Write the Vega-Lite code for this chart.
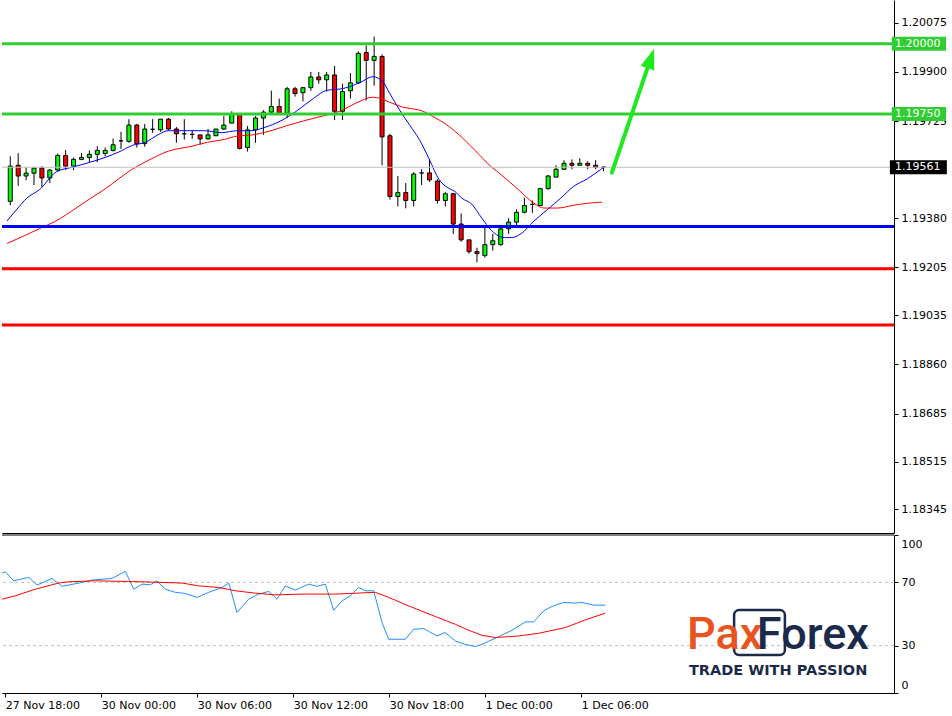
{
  "$schema": "https://vega.github.io/schema/vega-lite/v6.json",
  "padding": 0,
  "autosize": {"type": "pad"},
  "background": "white",
  "spacing": 1,
  "config": {
    "view": {"stroke": null},
    "axis": {"labelFont": "DejaVu Sans", "labelFontSize": 11, "labelColor": "black", "domainColor": "black", "tickColor": "black", "grid": false, "domainWidth": 1, "tickWidth": 1}
  },
  "datasets": {
    "candles": [
      {"i":0,"o":1.19440,"h":1.19600,"l":1.19426,"c":1.19565},
      {"i":1,"o":1.19568,"h":1.19611,"l":1.19495,"c":1.19530},
      {"i":2,"o":1.19530,"h":1.19561,"l":1.19515,"c":1.19540},
      {"i":3,"o":1.19540,"h":1.19561,"l":1.19498,"c":1.19558},
      {"i":4,"o":1.19558,"h":1.19565,"l":1.19490,"c":1.19523},
      {"i":5,"o":1.19523,"h":1.19554,"l":1.19505,"c":1.19551},
      {"i":6,"o":1.19551,"h":1.19610,"l":1.19547,"c":1.19603},
      {"i":7,"o":1.19603,"h":1.19622,"l":1.19551,"c":1.19565},
      {"i":8,"o":1.19565,"h":1.19596,"l":1.19551,"c":1.19589},
      {"i":9,"o":1.19589,"h":1.19611,"l":1.19586,"c":1.19596},
      {"i":10,"o":1.19596,"h":1.19621,"l":1.19579,"c":1.19607},
      {"i":11,"o":1.19607,"h":1.19636,"l":1.19579,"c":1.19621},
      {"i":12,"o":1.19610,"h":1.19631,"l":1.19600,"c":1.19621},
      {"i":13,"o":1.19621,"h":1.19663,"l":1.19617,"c":1.19641},
      {"i":14,"o":1.19655,"h":1.19687,"l":1.19626,"c":1.19655},
      {"i":15,"o":1.19653,"h":1.19732,"l":1.19648,"c":1.19711},
      {"i":16,"o":1.19711,"h":1.19715,"l":1.19631,"c":1.19645},
      {"i":17,"o":1.19645,"h":1.19715,"l":1.19634,"c":1.19697},
      {"i":18,"o":1.19696,"h":1.19732,"l":1.19683,"c":1.19696},
      {"i":19,"o":1.19694,"h":1.19732,"l":1.19687,"c":1.19732},
      {"i":20,"o":1.19732,"h":1.19736,"l":1.19694,"c":1.19697},
      {"i":21,"o":1.19697,"h":1.19704,"l":1.19648,"c":1.19680},
      {"i":22,"o":1.19680,"h":1.19732,"l":1.19659,"c":1.19680},
      {"i":23,"o":1.19678,"h":1.19694,"l":1.19662,"c":1.19678},
      {"i":24,"o":1.19676,"h":1.19676,"l":1.19641,"c":1.19662},
      {"i":25,"o":1.19662,"h":1.19697,"l":1.19659,"c":1.19676},
      {"i":26,"o":1.19673,"h":1.19697,"l":1.19673,"c":1.19697},
      {"i":27,"o":1.19697,"h":1.19743,"l":1.19694,"c":1.19711},
      {"i":28,"o":1.19718,"h":1.19760,"l":1.19718,"c":1.19750},
      {"i":29,"o":1.19750,"h":1.19750,"l":1.19624,"c":1.19628},
      {"i":30,"o":1.19631,"h":1.19708,"l":1.19617,"c":1.19694},
      {"i":31,"o":1.19694,"h":1.19743,"l":1.19648,"c":1.19736},
      {"i":32,"o":1.19736,"h":1.19764,"l":1.19676,"c":1.19757},
      {"i":33,"o":1.19757,"h":1.19833,"l":1.19753,"c":1.19777},
      {"i":34,"o":1.19777,"h":1.19805,"l":1.19750,"c":1.19753},
      {"i":35,"o":1.19753,"h":1.19847,"l":1.19736,"c":1.19840},
      {"i":36,"o":1.19840,"h":1.19847,"l":1.19812,"c":1.19823},
      {"i":37,"o":1.19826,"h":1.19844,"l":1.19795,"c":1.19844},
      {"i":38,"o":1.19844,"h":1.19900,"l":1.19833,"c":1.19882},
      {"i":39,"o":1.19882,"h":1.19900,"l":1.19858,"c":1.19872},
      {"i":40,"o":1.19872,"h":1.19900,"l":1.19830,"c":1.19889},
      {"i":41,"o":1.19889,"h":1.19921,"l":1.19729,"c":1.19760},
      {"i":42,"o":1.19760,"h":1.19858,"l":1.19729,"c":1.19830},
      {"i":43,"o":1.19833,"h":1.19896,"l":1.19805,"c":1.19861},
      {"i":44,"o":1.19861,"h":1.19973,"l":1.19858,"c":1.19966},
      {"i":45,"o":1.19969,"h":1.19994,"l":1.19798,"c":1.19941},
      {"i":46,"o":1.19941,"h":1.20026,"l":1.19851,"c":1.19955},
      {"i":47,"o":1.19955,"h":1.19962,"l":1.19568,"c":1.19669},
      {"i":48,"o":1.19673,"h":1.19680,"l":1.19446,"c":1.19457},
      {"i":49,"o":1.19457,"h":1.19530,"l":1.19422,"c":1.19471},
      {"i":50,"o":1.19471,"h":1.19505,"l":1.19415,"c":1.19443},
      {"i":51,"o":1.19443,"h":1.19544,"l":1.19422,"c":1.19537},
      {"i":52,"o":1.19541,"h":1.19554,"l":1.19498,"c":1.19541},
      {"i":53,"o":1.19541,"h":1.19589,"l":1.19509,"c":1.19516},
      {"i":54,"o":1.19512,"h":1.19519,"l":1.19432,"c":1.19443},
      {"i":55,"o":1.19443,"h":1.19474,"l":1.19422,"c":1.19467},
      {"i":56,"o":1.19467,"h":1.19467,"l":1.19324,"c":1.19359},
      {"i":57,"o":1.19359,"h":1.19397,"l":1.19296,"c":1.19303},
      {"i":58,"o":1.19303,"h":1.19303,"l":1.19254,"c":1.19261},
      {"i":59,"o":1.19261,"h":1.19275,"l":1.19223,"c":1.19254},
      {"i":60,"o":1.19247,"h":1.19350,"l":1.19240,"c":1.19286},
      {"i":61,"o":1.19286,"h":1.19324,"l":1.19265,"c":1.19300},
      {"i":62,"o":1.19286,"h":1.19345,"l":1.19282,"c":1.19342},
      {"i":63,"o":1.19342,"h":1.19380,"l":1.19324,"c":1.19366},
      {"i":64,"o":1.19366,"h":1.19411,"l":1.19345,"c":1.19401},
      {"i":65,"o":1.19401,"h":1.19453,"l":1.19397,"c":1.19425},
      {"i":66,"o":1.19429,"h":1.19443,"l":1.19399,"c":1.19429},
      {"i":67,"o":1.19425,"h":1.19488,"l":1.19425,"c":1.19485},
      {"i":68,"o":1.19485,"h":1.19533,"l":1.19481,"c":1.19530},
      {"i":69,"o":1.19526,"h":1.19568,"l":1.19526,"c":1.19554},
      {"i":70,"o":1.19554,"h":1.19586,"l":1.19551,"c":1.19575},
      {"i":71,"o":1.19575,"h":1.19589,"l":1.19554,"c":1.19568},
      {"i":72,"o":1.19568,"h":1.19593,"l":1.19568,"c":1.19575},
      {"i":73,"o":1.19575,"h":1.19582,"l":1.19554,"c":1.19568},
      {"i":74,"o":1.19568,"h":1.19586,"l":1.19554,"c":1.19561},
      {"i":75,"o":1.19561,"h":1.19565,"l":1.19547,"c":1.19561}
    ],
    "ma_fast": [
      {"i":-0.41,"v":1.19370},{"i":0.84,"v":1.19412},{"i":2.09,"v":1.19451},{"i":3.71,"v":1.19482},
      {"i":5.84,"v":1.19545},{"i":7.96,"v":1.19562},{"i":12.09,"v":1.19597},{"i":13.71,"v":1.19615},
      {"i":15.46,"v":1.19639},{"i":17.09,"v":1.19650},{"i":18.71,"v":1.19677},{"i":19.96,"v":1.19691},
      {"i":22.46,"v":1.19691},{"i":24.59,"v":1.19691},{"i":26.71,"v":1.19684},{"i":28.71,"v":1.19691},
      {"i":30.46,"v":1.19691},{"i":32.09,"v":1.19702},{"i":34.21,"v":1.19726},{"i":36.21,"v":1.19761},
      {"i":38.34,"v":1.19806},{"i":39.96,"v":1.19834},{"i":42.09,"v":1.19841},{"i":44.21,"v":1.19862},
      {"i":45.84,"v":1.19883},{"i":47.09,"v":1.19866},{"i":47.96,"v":1.19824},{"i":49.21,"v":1.19765},
      {"i":50.46,"v":1.19712},{"i":51.71,"v":1.19660},{"i":52.96,"v":1.19590},{"i":54.21,"v":1.19517},
      {"i":55.46,"v":1.19486},{"i":56.21,"v":1.19475},{"i":57.09,"v":1.19451},{"i":58.34,"v":1.19430},
      {"i":59.59,"v":1.19381},{"i":60.84,"v":1.19336},{"i":62.46,"v":1.19311},{"i":63.34,"v":1.19311},
      {"i":64.59,"v":1.19325},{"i":66.21,"v":1.19370},{"i":67.96,"v":1.19412},{"i":69.59,"v":1.19451},
      {"i":71.21,"v":1.19493},{"i":72.96,"v":1.19520},{"i":74.59,"v":1.19552},{"i":74.96,"v":1.19559}
    ],
    "ma_slow": [
      {"i":-0.41,"v":1.19290},{"i":3.71,"v":1.19343},{"i":6.21,"v":1.19377},{"i":7.96,"v":1.19409},
      {"i":9.96,"v":1.19447},{"i":12.09,"v":1.19486},{"i":13.71,"v":1.19520},{"i":15.46,"v":1.19555},
      {"i":17.09,"v":1.19580},{"i":19.96,"v":1.19618},{"i":22.96,"v":1.19636},{"i":24.96,"v":1.19650},
      {"i":27.09,"v":1.19660},{"i":28.34,"v":1.19670},{"i":30.84,"v":1.19677},{"i":32.96,"v":1.19691},
      {"i":34.96,"v":1.19709},{"i":37.09,"v":1.19726},{"i":39.59,"v":1.19744},{"i":41.71,"v":1.19761},
      {"i":43.71,"v":1.19789},{"i":45.84,"v":1.19810},{"i":46.71,"v":1.19806},{"i":47.96,"v":1.19792},
      {"i":49.59,"v":1.19775},{"i":52.09,"v":1.19761},{"i":53.71,"v":1.19737},{"i":54.96,"v":1.19716},
      {"i":56.71,"v":1.19677},{"i":58.71,"v":1.19622},{"i":60.84,"v":1.19562},{"i":62.09,"v":1.19534},
      {"i":64.21,"v":1.19482},{"i":66.21,"v":1.19433},{"i":67.46,"v":1.19416},{"i":69.21,"v":1.19416},
      {"i":71.21,"v":1.19426},{"i":72.96,"v":1.19433},{"i":74.84,"v":1.19437}
    ],
    "levels": [
      {"p":1.20000,"kind":"target"},{"p":1.19750,"kind":"target"},
      {"p":1.19350,"kind":"pivot"},
      {"p":1.19200,"kind":"support"},{"p":1.19000,"kind":"support"}
    ],
    "price_tags": [
      {"p":1.20000,"kind":"target"},{"p":1.19750,"kind":"target"},{"p":1.19561,"kind":"last"}
    ],
    "arrow": [{"i0":76.05,"p0":1.19542,"i1":80.975,"p1":1.19948}],
    "rsi": [
      {"i":-0.41,"v":75.9},{"i":0,"v":76.7},{"i":1.05,"v":71.0},{"i":2.93,"v":73.2},{"i":3.96,"v":68.3},
      {"i":5.84,"v":72.5},{"i":7.09,"v":67.5},{"i":9.59,"v":70.0},{"i":10.84,"v":71.5},{"i":13.34,"v":72.5},
      {"i":15.0,"v":77.0},{"i":16.05,"v":65.7},{"i":17.09,"v":68.9},{"i":18.13,"v":68.5},{"i":18.96,"v":71.0},
      {"i":20.0,"v":65.7},{"i":21.25,"v":63.7},{"i":22.5,"v":63.0},{"i":23.96,"v":60.5},{"i":25.43,"v":63.7},
      {"i":27.09,"v":66.8},{"i":27.93,"v":69.6},{"i":28.96,"v":51.0},{"i":30.43,"v":59.4},{"i":31.68,"v":62.6},
      {"i":32.93,"v":64.3},{"i":33.96,"v":59.4},{"i":35.0,"v":67.8},{"i":36.25,"v":65.1},{"i":37.93,"v":68.9},
      {"i":38.96,"v":67.5},{"i":40.0,"v":68.9},{"i":41.05,"v":52.4},{"i":42.09,"v":58.3},{"i":43.13,"v":61.5},
      {"i":44.18,"v":66.8},{"i":45.0,"v":64.7},{"i":46.05,"v":64.7},{"i":47.09,"v":44.6},{"i":47.93,"v":34.0},
      {"i":50.0,"v":34.0},{"i":51.05,"v":40.3},{"i":52.3,"v":40.8},{"i":53.96,"v":36.1},{"i":55.0,"v":38.3},
      {"i":56.25,"v":32.9},{"i":57.5,"v":30.8},{"i":58.75,"v":29.4},{"i":59.59,"v":30.8},{"i":61.68,"v":35.7},
      {"i":63.34,"v":39.7},{"i":65.0,"v":45.0},{"i":66.05,"v":45.0},{"i":67.3,"v":52.0},{"i":68.34,"v":54.8},
      {"i":69.8,"v":57.3},{"i":71.25,"v":56.9},{"i":72.09,"v":57.3},{"i":73.55,"v":55.6},{"i":75.0,"v":55.6}
    ],
    "rsi_signal": [
      {"i":-0.41,"v":59.4},{"i":1.25,"v":61.5},{"i":3.75,"v":65.7},{"i":6.68,"v":69.6},{"i":7.93,"v":70.4},
      {"i":11.25,"v":71.0},{"i":15.43,"v":70.6},{"i":19.59,"v":70.0},{"i":22.09,"v":69.6},{"i":24.18,"v":67.8},
      {"i":26.68,"v":66.8},{"i":28.75,"v":64.7},{"i":31.25,"v":63.2},{"i":33.75,"v":62.1},{"i":37.09,"v":62.6},
      {"i":41.25,"v":62.6},{"i":46.25,"v":63.7},{"i":47.93,"v":60.5},{"i":50.43,"v":55.1},{"i":53.75,"v":48.4},
      {"i":56.25,"v":43.5},{"i":57.93,"v":39.7},{"i":59.59,"v":36.5},{"i":61.25,"v":35.1},{"i":64.18,"v":36.1},
      {"i":66.68,"v":37.8},{"i":70.0,"v":41.4},{"i":72.5,"v":46.3},{"i":75.0,"v":50.5}
    ],
    "rsi_levels": [{"v":70},{"v":30}]
  },
  "vconcat": [
    {
      "width": 892,
      "height": 533,
      "layer": [
        {
          "data": {"name": "candles"},
          "mark": {"type": "rule", "color": "black", "strokeWidth": 1},
          "encoding": {
            "x": {"field": "i", "type": "quantitative", "scale": {"domain": [-0.4125, 111.0875], "nice": false, "zero": false},
                  "axis": {"orient": "bottom", "labels": false, "ticks": false, "domain": true, "title": null}},
            "y": {"field": "l", "type": "quantitative", "scale": {"domain": [1.182787, 1.201378], "nice": false, "zero": false},
                  "axis": {"orient": "right", "title": null, "values": [1.20075, 1.199, 1.19725, 1.1938, 1.19205, 1.19035, 1.1886, 1.18685, 1.18515, 1.18345], "format": ".5f", "tickSize": 4, "labelPadding": 3}},
            "y2": {"field": "h"}
          }
        },
        {
          "data": {"name": "candles"},
          "mark": {"type": "bar", "size": 4, "stroke": "black", "strokeWidth": 1},
          "encoding": {
            "x": {"field": "i", "type": "quantitative"},
            "y": {"field": "o", "type": "quantitative"},
            "y2": {"field": "c"},
            "fill": {"condition": {"test": "datum.c > datum.o", "value": "#00ff00"}, "value": "#ff0000"}
          }
        },
        {
          "data": {"name": "ma_fast"},
          "mark": {"type": "line", "color": "#0000ff", "strokeWidth": 1, "interpolate": "monotone"},
          "encoding": {"x": {"field": "i", "type": "quantitative"}, "y": {"field": "v", "type": "quantitative"}}
        },
        {
          "data": {"name": "ma_slow"},
          "mark": {"type": "line", "color": "#ff0000", "strokeWidth": 1, "interpolate": "monotone"},
          "encoding": {"x": {"field": "i", "type": "quantitative"}, "y": {"field": "v", "type": "quantitative"}}
        },
        {
          "data": {"values": [{}]},
          "mark": {"type": "rule", "color": "#c0c0c0", "strokeWidth": 1},
          "encoding": {"y": {"datum": 1.19561}}
        },
        {
          "data": {"name": "levels"},
          "transform": [{"filter": "datum.kind == 'target'"}],
          "mark": {"type": "rule", "color": "#32cd32", "strokeWidth": 3},
          "encoding": {"y": {"field": "p", "type": "quantitative"}}
        },
        {
          "data": {"name": "levels"},
          "transform": [{"filter": "datum.kind == 'pivot'"}],
          "mark": {"type": "rule", "color": "#0000ff", "strokeWidth": 3},
          "encoding": {"y": {"field": "p", "type": "quantitative"}}
        },
        {
          "data": {"name": "levels"},
          "transform": [{"filter": "datum.kind == 'support'"}],
          "mark": {"type": "rule", "color": "#ff0000", "strokeWidth": 3},
          "encoding": {"y": {"field": "p", "type": "quantitative"}}
        },
        {
          "data": {"name": "arrow"},
          "mark": {"type": "rule", "color": "#1ee81e", "strokeWidth": 4, "strokeCap": "round"},
          "encoding": {
            "x": {"field": "i0", "type": "quantitative"}, "x2": {"field": "i1"},
            "y": {"field": "p0", "type": "quantitative"}, "y2": {"field": "p1"}
          }
        },
        {
          "data": {"name": "arrow"},
          "mark": {"type": "point", "shape": "M0,-1L0.7,1L-0.7,1Z", "size": 420, "angle": 18.7, "filled": true, "color": "#1ee81e", "opacity": 1},
          "encoding": {"x": {"field": "i1", "type": "quantitative"}, "y": {"field": "p1", "type": "quantitative"}}
        },
        {
          "data": {"name": "price_tags"},
          "transform": [{"filter": "datum.kind == 'target'"}],
          "mark": {"type": "bar", "color": "#32cd32", "size": 14, "orient": "horizontal"},
          "encoding": {"x": {"datum": 111.45}, "x2": {"datum": 118.3}, "y": {"field": "p", "type": "quantitative"}}
        },
        {
          "data": {"name": "price_tags"},
          "transform": [{"filter": "datum.kind == 'last'"}],
          "mark": {"type": "bar", "color": "#000000", "size": 14, "orient": "horizontal"},
          "encoding": {"x": {"datum": 111.2}, "x2": {"datum": 118.4}, "y": {"field": "p", "type": "quantitative"}}
        },
        {
          "data": {"name": "price_tags"},
          "mark": {"type": "text", "color": "white", "font": "DejaVu Sans", "fontSize": 11, "align": "left", "baseline": "middle"},
          "encoding": {"x": {"datum": 111.85}, "y": {"field": "p", "type": "quantitative"}, "text": {"field": "p", "type": "quantitative", "format": ".5f"}}
        }
      ]
    },
    {
      "width": 892,
      "height": 158,
      "layer": [
        {
          "data": {"name": "rsi_levels"},
          "mark": {"type": "rule", "color": "#c0c0c0", "strokeWidth": 1, "strokeDash": [3, 3]},
          "encoding": {"y": {"field": "v", "type": "quantitative", "scale": {"domain": [0, 100], "nice": false, "zero": false},
                  "axis": {"orient": "right", "title": null, "values": [0, 30, 70, 100], "tickSize": 4, "labelPadding": 3, "labelFlush": true, "labelFlushOffset": -3}}}
        },
        {
          "data": {"values": [{}]},
          "mark": {"type": "rule", "color": "black", "strokeWidth": 1},
          "encoding": {"y": {"datum": 100}}
        },
        {
          "data": {"name": "rsi"},
          "mark": {"type": "line", "color": "#1e90ff", "strokeWidth": 1},
          "encoding": {
            "x": {"field": "i", "type": "quantitative", "scale": {"domain": [-0.4125, 111.0875], "nice": false, "zero": false},
                  "axis": {"orient": "bottom", "title": null, "values": [0, 12, 24, 36, 48, 60, 72], "labelExpr": "['27 Nov 18:00','30 Nov 00:00','30 Nov 06:00','30 Nov 12:00','30 Nov 18:00','1 Dec 00:00','1 Dec 06:00'][round(datum.value / 12)]", "labelAlign": "left", "tickSize": 4, "labelPadding": 2, "labelFlush": false}},
            "y": {"field": "v", "type": "quantitative"}
          }
        },
        {
          "data": {"name": "rsi_signal"},
          "mark": {"type": "line", "color": "#ff0000", "strokeWidth": 1},
          "encoding": {"x": {"field": "i", "type": "quantitative"}, "y": {"field": "v", "type": "quantitative"}}
        },
        {
          "data": {"values": [{}]},
          "mark": {"type": "rect", "fillOpacity": 0, "fill": "white", "stroke": "#1b2a4a", "strokeWidth": 2.5, "cornerRadius": 5},
          "encoding": {"x": {"datum": 91.1}, "x2": {"datum": 97.45}, "y": {"datum": 52.5}, "y2": {"datum": 24.0}}
        },
        {
          "data": {"values": [{}]},
          "mark": {"type": "text", "text": "Pax", "color": "#e8531e", "font": "Roboto", "fontWeight": 500, "fontSize": 45, "align": "left", "baseline": "alphabetic"},
          "encoding": {"x": {"datum": 85.2}, "y": {"datum": 27.8}}
        },
        {
          "data": {"values": [{}]},
          "mark": {"type": "text", "text": "Forex", "color": "#1b2a4a", "font": "Roboto", "fontWeight": 500, "fontSize": 45, "align": "right", "baseline": "alphabetic"},
          "encoding": {"x": {"datum": 107.95}, "y": {"datum": 27.8}}
        },
        {
          "data": {"values": [{}]},
          "mark": {"type": "text", "text": "TRADE WITH PASSION", "color": "#1b2a4a", "font": "DejaVu Sans", "fontWeight": "bold", "fontSize": 14.5, "align": "center", "baseline": "middle"},
          "encoding": {"x": {"datum": 96.6}, "y": {"datum": 14.2}}
        }
      ]
    }
  ]
}
